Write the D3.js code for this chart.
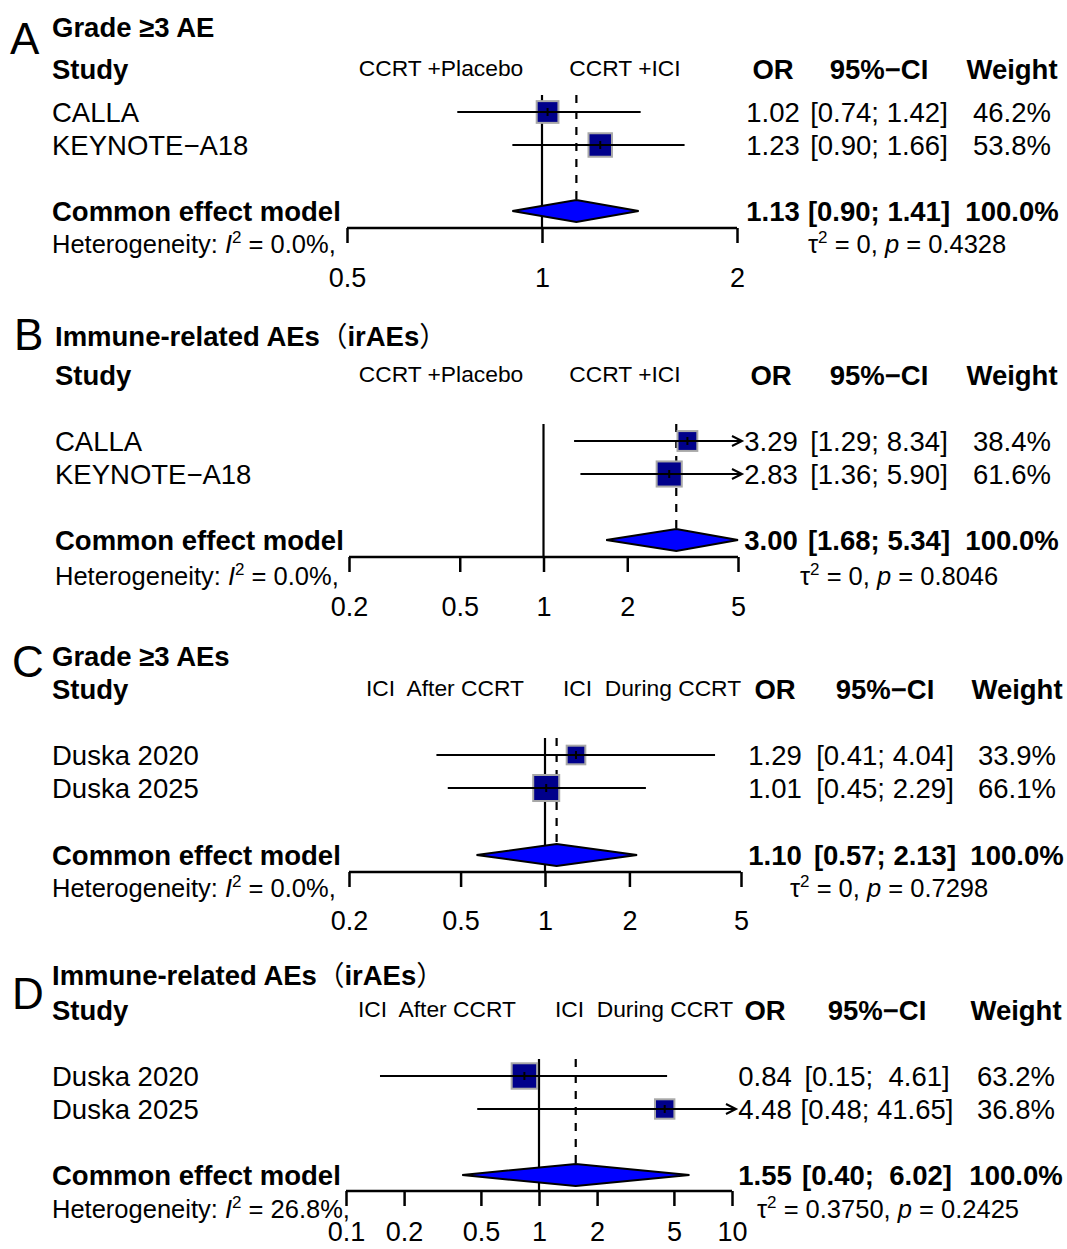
<!DOCTYPE html>
<html><head><meta charset="utf-8">
<script src="https://cdn.jsdelivr.net/npm/d3@7"></script>
<style>
body{margin:0;background:#fff;}
svg{font-family:"Liberation Sans",Arial,"Noto Sans CJK SC",sans-serif;}
text{white-space:pre;}
</style></head><body>
<svg id="chart" width="1067" height="1249"></svg>
<script>
// ---------------- DATA ----------------
const panelLetters = ["A","B","C","D"];
const panelTitles = ["Grade ≥3 AE","Immune-related AEs（irAEs）","Grade ≥3 AEs","Immune-related AEs（irAEs）"];
const leftLabels = ["CCRT +Placebo","CCRT +Placebo","ICI  After CCRT","ICI  After CCRT"];
const rightLabels = ["CCRT +ICI","CCRT +ICI","ICI  During CCRT","ICI  During CCRT"];

const studiesA = ["CALLA","KEYNOTE−A18"];
const orA = [1.02,1.23], lowerA = [0.74,0.90], upperA = [1.42,1.66], weightA = [46.2,53.8];
const pooledA = [1.13,0.90,1.41];
const ticksA = [0.5,1,2];

const studiesB = ["CALLA","KEYNOTE−A18"];
const orB = [3.29,2.83], lowerB = [1.29,1.36], upperB = [8.34,5.90], weightB = [38.4,61.6];
const pooledB = [3.00,1.68,5.34];
const ticksB = [0.2,0.5,1,2,5];

const studiesC = ["Duska 2020","Duska 2025"];
const orC = [1.29,1.01], lowerC = [0.41,0.45], upperC = [4.04,2.29], weightC = [33.9,66.1];
const pooledC = [1.10,0.57,2.13];
const ticksC = [0.2,0.5,1,2,5];

const studiesD = ["Duska 2020","Duska 2025"];
const orD = [0.84,4.48], lowerD = [0.15,0.48], upperD = [4.61,41.65], weightD = [63.2,36.8];
const pooledD = [1.55,0.40,6.02];
const ticksD = [0.1,0.2,0.5,1,2,5,10];

const i2Values = ["0.0%","0.0%","0.0%","26.8%"];
const tau2Values = ["0","0","0","0.3750"];
const pValues = ["0.4328","0.8046","0.7298","0.2425"];

// ---------------- LAYOUT ----------------
const layouts = [
 {letterX:10,letterY:54,titleY:37,headY:79,rows:[112,145],commonY:211,axisY:228,hetY:253,tickY:287,x0:347,x1:737,left:52,orX:773,ciX:879,wX:1012,subL:441,subR:625,tauX:808},
 {letterX:14,letterY:350,titleY:346,headY:385,rows:[441,474],commonY:540,axisY:557,hetY:585,tickY:616,x0:349,x1:738,left:55,orX:771,ciX:879,wX:1012,subL:441,subR:625,tauX:800},
 {letterX:12,letterY:677,titleY:666,headY:699,rows:[755,788],commonY:855,axisY:872,hetY:897,tickY:930,x0:349,x1:741,left:52,orX:775,ciX:885,wX:1017,subL:445,subR:652,tauX:790},
 {letterX:12,letterY:1009,titleY:985,headY:1020,rows:[1076,1109],commonY:1175,axisY:1191,hetY:1218,tickY:1241,x0:346,x1:732,left:52,orX:765,ciX:877,wX:1016,subL:437,subR:644,tauX:757}
];

const datasets = [
 {studies:studiesA,or:orA,lo:lowerA,hi:upperA,w:weightA,pooled:pooledA,ticks:ticksA},
 {studies:studiesB,or:orB,lo:lowerB,hi:upperB,w:weightB,pooled:pooledB,ticks:ticksB},
 {studies:studiesC,or:orC,lo:lowerC,hi:upperC,w:weightC,pooled:pooledC,ticks:ticksC},
 {studies:studiesD,or:orD,lo:lowerD,hi:upperD,w:weightD,pooled:pooledD,ticks:ticksD}
];

const svg = d3.select("#chart");
const FS = 27.5;
const f2 = d3.format(".2f"), f1 = d3.format(".1f");

datasets.forEach((d,pi)=>{
  const L = layouts[pi];
  const g = svg.append("g");
  const dom = [d.ticks[0], d.ticks[d.ticks.length-1]];
  const x = d3.scaleLog().domain(dom).range([L.x0,L.x1]);

  // letter & title
  g.append("text").attr("x",L.letterX).attr("y",L.letterY).attr("font-size",44).text(panelLetters[pi]);
  const t = g.append("text").attr("x",L.left).attr("y",L.titleY).attr("font-size",FS).attr("font-weight","bold");
  const parts = panelTitles[pi].split(/(（|）)/);
  parts.forEach(p=>{
    if(!p) return;
    const sp = t.append("tspan").text(p);
    if(p==="（"||p==="）") sp.attr("font-weight","normal").attr("font-family","Noto Sans CJK SC");
  });

  // headers
  g.append("text").attr("x",L.left).attr("y",L.headY).attr("font-size",FS).attr("font-weight","bold").text("Study");
  g.append("text").attr("x",L.subL).attr("y",L.headY-3).attr("font-size",22.8).attr("text-anchor","middle").text(leftLabels[pi]);
  g.append("text").attr("x",L.subR).attr("y",L.headY-3).attr("font-size",22.8).attr("text-anchor","middle").text(rightLabels[pi]);
  g.append("text").attr("x",L.orX).attr("y",L.headY).attr("font-size",FS).attr("font-weight","bold").attr("text-anchor","middle").text("OR");
  g.append("text").attr("x",L.ciX).attr("y",L.headY).attr("font-size",FS).attr("font-weight","bold").attr("text-anchor","middle").text("95%−CI");
  g.append("text").attr("x",L.wX).attr("y",L.headY).attr("font-size",FS).attr("font-weight","bold").attr("text-anchor","middle").text("Weight");

  // reference lines
  const topY = L.rows[0]-17;
  g.append("line").attr("x1",x(1)).attr("x2",x(1)).attr("y1",topY).attr("y2",L.axisY)
    .attr("stroke","#000").attr("stroke-width",2.2);
  g.append("line").attr("x1",x(d.pooled[0])).attr("x2",x(d.pooled[0])).attr("y1",topY).attr("y2",L.commonY-12)
    .attr("stroke","#000").attr("stroke-width",2.2).attr("stroke-dasharray","8,8");

  // formatting helpers for CI strings
  const loS = d.lo.concat([d.pooled[1]]).map(f2), hiS = d.hi.concat([d.pooled[2]]).map(f2);
  const loW = d3.max(loS,s=>s.length), hiW = d3.max(hiS,s=>s.length);
  const ciStr = i => "["+loS[i].padStart(loW," ")+"; "+hiS[i].padStart(hiW," ")+"]";

  // studies
  d.studies.forEach((name,i)=>{
    const y = L.rows[i];
    g.append("text").attr("x",L.left).attr("y",y+10).attr("font-size",FS).text(name);
    const s = 32*Math.sqrt(d.w[i]/100);
    const cx = x(d.or[i]);
    g.append("rect").attr("x",cx-s/2).attr("y",y-s/2).attr("width",s).attr("height",s)
      .attr("fill","#00008B").attr("stroke","#a8a8a8").attr("stroke-width",2);
    const lx1 = x(Math.max(d.lo[i],dom[0])), lx2 = x(Math.min(d.hi[i],dom[1]));
    g.append("line").attr("x1",lx1).attr("x2",lx2).attr("y1",y).attr("y2",y).attr("stroke","#000").attr("stroke-width",2);
    g.append("line").attr("x1",cx).attr("x2",cx).attr("y1",y-4).attr("y2",y+4).attr("stroke","#000").attr("stroke-width",2);
    if(d.hi[i]>dom[1]){
      const tip = lx2+4;
      g.append("line").attr("x1",lx1).attr("x2",tip).attr("y1",y).attr("y2",y).attr("stroke","#000").attr("stroke-width",2);
      g.append("path").attr("d",`M${tip-10},${y-5}L${tip},${y}L${tip-10},${y+5}`).attr("fill","none").attr("stroke","#000").attr("stroke-width",2);
    }
    g.append("text").attr("x",L.orX).attr("y",y+10).attr("font-size",FS).attr("text-anchor","middle").text(f2(d.or[i]));
    g.append("text").attr("x",L.ciX).attr("y",y+10).attr("font-size",FS).attr("text-anchor","middle").text(ciStr(i));
    g.append("text").attr("x",L.wX).attr("y",y+10).attr("font-size",FS).attr("text-anchor","middle").text(f1(d.w[i])+"%");
  });

  // pooled
  const cy = L.commonY;
  const px = x(d.pooled[0]), plo = x(Math.max(d.pooled[1],dom[0])), phi = x(Math.min(d.pooled[2],dom[1]));
  g.append("path").attr("d",`M${plo},${cy}L${px},${cy-11}L${phi},${cy}L${px},${cy+11}Z`)
    .attr("fill","#0000FF").attr("stroke","#000").attr("stroke-width",2);
  g.append("text").attr("x",L.left).attr("y",cy+10).attr("font-size",FS).attr("font-weight","bold").text("Common effect model");
  g.append("text").attr("x",L.orX).attr("y",cy+10).attr("font-size",FS).attr("font-weight","bold").attr("text-anchor","middle").text(f2(d.pooled[0]));
  g.append("text").attr("x",L.ciX).attr("y",cy+10).attr("font-size",FS).attr("font-weight","bold").attr("text-anchor","middle").text(ciStr(d.studies.length));
  g.append("text").attr("x",L.wX).attr("y",cy+10).attr("font-size",FS).attr("font-weight","bold").attr("text-anchor","middle").text("100.0%");

  // axis
  const axis = d3.axisBottom(x).tickValues(d.ticks).tickSize(15).tickFormat(v=>String(v));
  const ag = g.append("g").attr("transform",`translate(0,${L.axisY})`).call(axis);
  ag.select(".domain").attr("d",`M${L.x0},0H${L.x1}`).attr("stroke","#000").attr("stroke-width",2.5);
  ag.selectAll(".tick line").attr("stroke","#000").attr("stroke-width",2.5);
  ag.selectAll(".tick text").attr("font-size",27).attr("fill","#000").attr("y",0).attr("dy",0)
    .attr("transform",`translate(0,${L.tickY-L.axisY})`).attr("font-family","Liberation Sans, Arial, sans-serif");

  // heterogeneity
  const h = g.append("text").attr("x",L.left).attr("y",L.hetY).attr("font-size",25.5);
  h.append("tspan").text("Heterogeneity: ");
  h.append("tspan").attr("font-style","italic").text("I");
  h.append("tspan").attr("font-size",17).attr("dy",-10).text("2");
  h.append("tspan").attr("dy",10).text(" = "+i2Values[pi]+",");
  const tt = g.append("text").attr("x",L.tauX).attr("y",L.hetY).attr("font-size",25.5);
  tt.append("tspan").text("τ");
  tt.append("tspan").attr("font-size",17).attr("dy",-10).text("2");
  tt.append("tspan").attr("dy",10).text(" = "+tau2Values[pi]+", ");
  tt.append("tspan").attr("font-style","italic").text("p");
  tt.append("tspan").text(" = "+pValues[pi]);
});
</script>
</body></html>
